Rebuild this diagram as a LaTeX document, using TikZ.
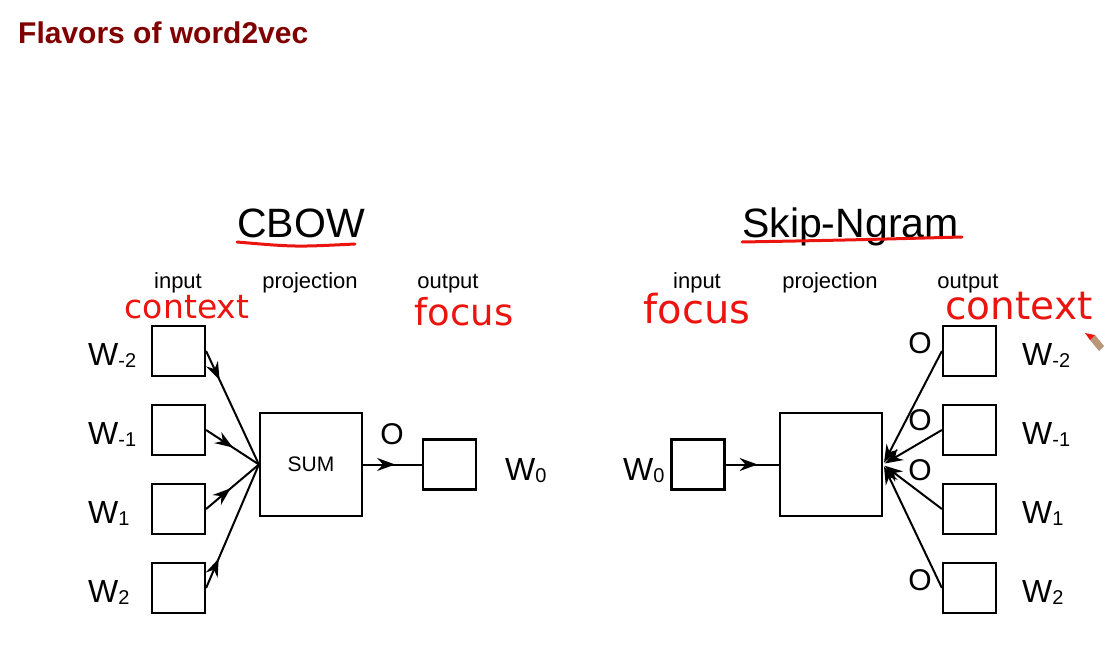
\documentclass[tikz,border=0pt]{standalone}
\usepackage{fontspec}
\setmainfont{Liberation Sans}
\newfontfamily\handFont{DejaVu Sans}
\usetikzlibrary{positioning, arrows.meta, decorations.markings}
\definecolor{titleColor}{RGB}{128,0,0}
\definecolor{inkColor}{RGB}{235,20,15}
\definecolor{pencilColor}{RGB}{185,150,120}
\tikzstyle{diagram} = [x = 1pt, y = -1pt]
\tikzstyle{wordBox} = [draw, line width = 2.2pt, minimum width = 53pt, minimum height = 50pt, inner sep = 0pt]
\tikzstyle{projBox} = [wordBox, minimum width = 102pt, minimum height = 103pt, font = \fontsize{21}{21}\selectfont]
\tikzstyle{edgeLine} = [line width = 2pt]
\tikzstyle{midArrow} = [edgeLine, postaction = {decorate}, decoration = {markings, mark = at position 32pt with {\arrow{Stealth[length = 18pt, width = 13pt, inset = 6pt]}}}]
\tikzstyle{endArrow} = [edgeLine, -{Stealth[length = 18pt, width = 13pt, inset = 6pt]}, shorten >= 2pt]
\tikzstyle{layerText} = [font = \fontsize{22}{22}\selectfont, anchor = base, inner sep = 0pt]
\tikzstyle{headText} = [font = \fontsize{41}{41}\selectfont, anchor = base west, inner sep = 0pt]
\tikzstyle{wordText} = [anchor = base west, inner sep = 0pt]
\tikzstyle{outText} = [font = \fontsize{30}{30}\selectfont, inner sep = 0pt]
\tikzstyle{inkText} = [color = inkColor, inner sep = 0pt]
\tikzstyle{inkLine} = [color = inkColor, line width = 3pt, line cap = round]
\newcommand{\wordLabel}[1]{{\fontsize{32}{32}\selectfont W}{\fontsize{20}{20}\selectfont\raisebox{-2pt}{#1}}}
\newcommand{\inkFont}[1]{\handFont\fontsize{#1}{#1}\selectfont}

\begin{document}
\begin{tikzpicture}[diagram]
  \useasboundingbox (0,0) rectangle (1119,661);
  \node[anchor = base west, inner sep = 0pt, color = titleColor, font = \fontsize{30}{30}\selectfont\bfseries] (title) at (18,44) {Flavors of word2vec};

  % CBOW
  \node[headText] (cbowHead) at (237,237) {CBOW};
  \draw[inkLine] (237,242) .. controls (295,247) .. (355,244);
  \node[layerText] (cbowInput) at (178,288) {input};
  \node[layerText] (cbowProj) at (310,288) {projection};
  \node[layerText] (cbowOutput) at (448,288) {output};
  \node[inkText, font = \inkFont{33}] (cbowContext) at (187,307) {context};
  \node[inkText, font = \inkFont{37}] (cbowFocus) at (464,312) {focus};
  \node[projBox] (sum) at (311,464.5) {SUM};
  \foreach \w [count = \i from 0] in {-2,-1,1,2} {
    \pgfmathsetmacro{\boxY}{351 + 79 * \i}
    \node[wordBox] (in\i) at (178.5,\boxY) {};
    \node[wordText] (inW\i) at (88,\boxY + 14) {\wordLabel{\w}};
    \draw[midArrow] (in\i.east) -- (sum.west);
  }
  \node[wordBox] (center) at (449.5,464.5) {};
  \node[wordText] (centerW) at (505,480) {\wordLabel{0}};
  \node[outText] (cbowO) at (392,434) {O};
  \draw[midArrow] (sum.east) -- (center.west);

  % Skip-Ngram
  \node[headText] (skipHead) at (742,237) {Skip-Ngram};
  \draw[inkLine] (742,242) .. controls (850,240) .. (962,237);
  \node[layerText] (skipInput) at (697,288) {input};
  \node[layerText] (skipProj) at (830,288) {projection};
  \node[layerText] (skipOutput) at (968,288) {output};
  \node[inkText, font = \inkFont{40}] (skipFocus) at (697,309) {focus};
  \node[inkText, font = \inkFont{39}] (skipContext) at (1019,306) {context};
  \node[wordBox] (focus) at (698,464.5) {};
  \node[wordText] (focusW) at (623,480) {\wordLabel{0}};
  \node[projBox] (proj) at (831,464.5) {};
  \draw[midArrow] (focus.east) -- (proj.west);
  \foreach \w [count = \i from 0] in {-2,-1,1,2} {
    \pgfmathsetmacro{\boxY}{351 + 79 * \i}
    \node[wordBox] (out\i) at (969.5,\boxY) {};
    \node[wordText] (outW\i) at (1022,\boxY + 14) {\wordLabel{\w}};
    \draw[endArrow] (out\i.west) -- (proj.east);
  }
  \foreach \oy [count = \i from 0] in {343,420,470,580}
    \node[outText] (skipO\i) at (920,\oy) {O};

  % pencil cursor
  \fill[pencilColor] (1090,340) -- (1095,335) -- (1104,346) -- (1099,351) -- cycle;
  \fill[inkColor] (1085,333) -- (1095,335) -- (1090,340) -- cycle;
\end{tikzpicture}
\end{document}
